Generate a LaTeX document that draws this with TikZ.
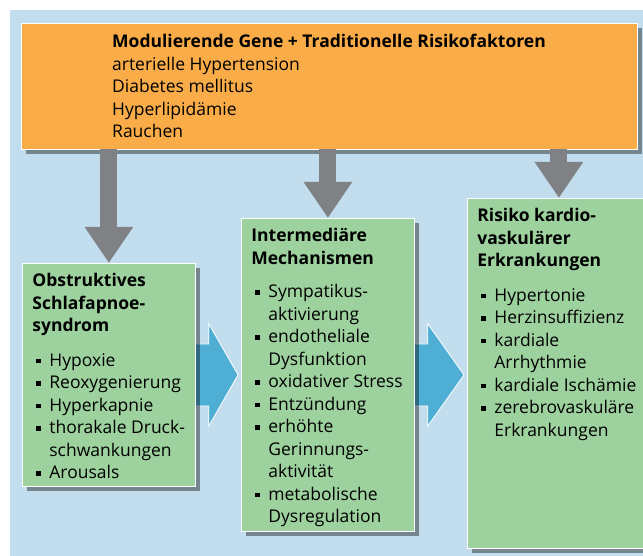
\documentclass[tikz,border=0pt]{standalone}
\usepackage{fontspec}
\setmainfont{Open Sans}
\usetikzlibrary{positioning,shadows,arrows.meta,calc,backgrounds}

\definecolor{bgblue}{HTML}{C2DEEE}
\definecolor{boxorange}{HTML}{F9AC48}
\definecolor{boxgreen}{HTML}{9DD19E}
\definecolor{arrgray}{HTML}{808185}
\definecolor{arrblue}{HTML}{4FAED4}

% bullet and continuation indent
\newcommand{\blt}{\makebox[17pt][l]{\hspace{4pt}\rule[3pt]{4.5pt}{4.5pt}}}
\newcommand{\cnt}{\hspace*{17pt}}
\newcommand{\boxtext}[3]{\parbox[t][#2][t]{#1}{#3}}

\begin{document}
\begin{tikzpicture}[x=1pt, y=-1pt,
    every node/.style={font=\fontsize{17.5}{22.5}\selectfont},
    gbox/.style={fill=boxgreen, draw=white, line width=0.8pt, anchor=north west,
        inner xsep=10pt, inner ysep=10pt, align=left,
        drop shadow={shadow xshift=5pt, shadow yshift=-5pt, fill=black, opacity=0.4}},
    obox/.style={gbox, fill=boxorange, anchor=center, inner sep=0pt},
    grayarrow/.style={draw=arrgray, line width=17pt, -{Triangle[width=46pt,length=36pt]}},
    bluearrow/.style={fill=arrblue, draw=white, line width=0.8pt, line join=miter}]
    \useasboundingbox (0,0) rectangle (643,556);

    \node[obox, minimum width=616pt, minimum height=126pt] (factors) at (329,86)
        {\textbf{Modulierende Gene + Traditionelle Risikofaktoren}\\
         arterielle Hypertension\\ Diabetes mellitus\\ Hyperlipidämie\\ Rauchen};

    \node[gbox] (osas) at (22,263) {\boxtext{153pt}{203pt}{%
        \textbf{Obstruktives}\\ \textbf{Schlafapnoe-}\\ \textbf{syndrom}\\[12pt]
        \blt Hypoxie\\ \blt Reoxygenierung\\ \blt Hyperkapnie\\
        \blt thorakale Druck-\\ \cnt schwankungen\\ \blt Arousals}};
    \node[gbox] (mech) at (241,218) {\boxtext{153pt}{293pt}{%
        \textbf{Intermediäre}\\ \textbf{Mechanismen}\\[11pt]
        \blt Sympatikus-\\ \cnt aktivierung\\ \blt endotheliale\\ \cnt Dysfunktion\\
        \blt oxidativer Stress\\ \blt Entzündung\\ \blt erhöhte\\ \cnt Gerinnungs-\\
        \cnt aktivität\\ \blt metabolische\\ \cnt Dysregulation}};
    \node[gbox] (risk) at (467,198) {\boxtext{163pt}{330pt}{%
        \textbf{Risiko kardio-}\\ \textbf{vaskulärer}\\ \textbf{Erkrankungen}\\[12pt]
        \blt Hypertonie\\ \blt Herzinsuffizienz\\ \blt kardiale\\ \cnt Arrhythmie\\
        \blt kardiale Ischämie\\ \blt zerebrovaskuläre\\ \cnt Erkrankungen}};

    % risk factors act on all three
    \foreach \n in {osas, mech, risk}
        \draw[grayarrow] (\n.north |- factors.south) -- (\n.north);

    \begin{scope}[on background layer]
        \fill[bgblue] (10,10) rectangle (643,556);
        \foreach \a/\b in {osas/mech, mech/risk}
            \filldraw[bluearrow] ($(\a.east)+(-6,-31)$) -- ($(\a.east)+(13,-31)$)
                -- ($(\a.east)+(13,-51)$) -- ($(\a.east -| \b.west)+(-3,0)$)
                -- ($(\a.east)+(13,51)$) -- ($(\a.east)+(13,31)$)
                -- ($(\a.east)+(-6,31)$) -- cycle;
    \end{scope}
\end{tikzpicture}
\end{document}
